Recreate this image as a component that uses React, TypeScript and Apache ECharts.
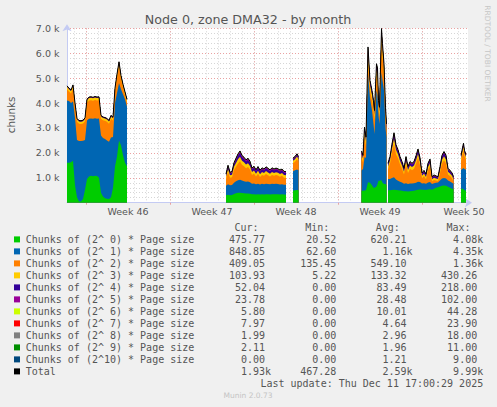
import React, { useEffect, useRef } from "react";
import * as echarts from "echarts";

// ---- time axis (hours from the left edge of the graph) ----
const hours = [
  0, 4, 8, 12, 16, 20, 24, 28, 32, 36, 40, 44, 48, 52, 56, 60, 64, 68, 72, 76, 80, 84, 88, 92, 96, 100, 104, 108, 112, 116, 120,
  122,
  318, 322, 326, 330, 334, 338, 342, 346, 350, 354, 358, 362, 366, 370, 374, 378, 382, 386, 390, 394, 398, 402, 406, 410, 414, 418, 422, 426, 430, 434, 438,
  441,
  452, 456, 460, 463,
  466,
  589, 592, 595, 598, 602, 606, 610, 613, 615, 619, 621, 623, 625, 629, 631, 634, 637, 639,
  641,
  642, 646, 650, 654, 658, 662, 666, 670, 674, 678, 682, 686, 690, 694, 698, 702, 706, 710, 714, 718, 722, 726, 730, 734, 738, 742, 746, 750, 754, 758, 762, 766, 770, 773,
  777,
  788, 791, 793, 795, 798,
];

// ---- series values (chunks) ----
const order0 = [
  1600, 1600, 1620, 1680, 700, 220, 50, 50, 150, 520, 950, 1050, 1080, 1060, 1080, 1070, 1000, 400, 250, 180, 160, 150, 220, 600, 1450, 1850, 2500, 2300, 1900, 1600, 1450,
  null,
  300, 320, 300, 310, 350, 380, 400, 400, 390, 380, 370, 370, 360, 340, 340, 330, 340, 330, 340, 330, 340, 335, 330, 340, 335, 340, 335, 330, 335, 325, 320,
  null,
  480, 500, 510, 500,
  null,
  480, 480, 490, 500, 820, 800, 700, 600, 600, 650, 750, 880, 880, 900, 800, 750, 750, 700,
  null,
  500, 500, 510, 520, 510, 500, 490, 480, 460, 460, 450, 460, 470, 480, 500, 520, 530, 520, 520, 510, 530, 540, 520, 560, 600, 620, 650, 680, 690, 680, 640, 600, 560, 540,
  null,
  560, 560, 540, 500, 475.77,
];
const order1 = [
  2500, 2480, 2380, 2380, 2700, 2300, 2430, 2430, 2340, 2000, 2350, 2320, 2300, 2310, 2310, 2300, 2380, 2300, 2350, 2380, 2340, 2300, 2400, 2040, 2550, 2550, 2300, 2250, 2450, 2550, 2400,
  null,
  380, 420, 400, 400, 450, 480, 500, 520, 500, 480, 470, 480, 460, 420, 430, 410, 420, 400, 420, 410, 420, 415, 410, 420, 415, 420, 415, 405, 410, 400, 400,
  null,
  780, 800, 820, 800,
  null,
  810, 870, 1330, 1300, 4350, 3400, 3000, 2560, 2160, 3850, 3550, 2620, 2280, 4340, 4100, 3750, 2250, 1930,
  null,
  450, 450, 480, 500, 420, 380, 350, 330, 300, 320, 300, 310, 300, 300, 300, 320, 300, 250, 260, 250, 280, 290, 230, 220, 200, 190, 240, 290, 300, 290, 250, 250, 240, 220,
  null,
  750, 800, 850, 850, 848.85,
];
const order2 = [
  455, 385, 385, 525, 465, 725, 685, 675, 685, 745, 715, 735, 735, 725, 735, 735, 735, 665, 705, 725, 745, 715, 745, 655, 465, 615, 705, 415, 265, 165, 165,
  null,
  275, 485, 300, 310, 510, 585, 670, 745, 630, 600, 545, 580, 515, 350, 400, 315, 400, 305, 355, 337, 390, 352, 315, 355, 327, 347, 337, 310, 332, 280, 275,
  null,
  325, 345, 410, 345,
  null,
  510, 270, 850, 470, 540, 300, 400, 540, 560, 570, 620, 200, 290, 1190, 940, 570, 430, 150,
  null,
  390, 620, 1010, 1340, 1015, 900, 702, 555, 375, 762, 443, 595, 537, 585, 760, 950, 662, 213, 287, 185, 497, 623, 107, 135, 87, 58, 303, 605, 712, 605, 245, 217, 184, 97,
  null,
  352, 570, 713, 518, 409.05,
];
const order3 = [
  95, 92, 96, 100, 94, 98, 95, 93, 96, 97, 95, 94, 96, 95, 97, 95, 94, 96, 95, 93, 97, 95, 96, 94, 98, 100, 102, 96, 95, 94, 93,
  null,
  90, 130, 100, 100, 130, 150, 170, 180, 160, 160, 150, 150, 140, 120, 120, 110, 120, 110, 120, 115, 120, 115, 110, 120, 115, 118, 115, 110, 115, 105, 105,
  null,
  100, 100, 110, 100,
  null,
  150, 150, 200, 200, 300, 220, 220, 220, 210, 280, 270, 220, 210, 320, 310, 280, 220, 210,
  null,
  110, 130, 170, 220, 180, 160, 140, 130, 110, 140, 115, 130, 125, 130, 145, 165, 140, 95, 105, 90, 125, 135, 85, 90, 85, 80, 115, 150, 160, 150, 110, 105, 95, 85,
  null,
  120, 140, 150, 120, 103.93,
];
const order4 = [
  20, 21, 19, 22, 20, 18, 19, 20, 21, 20, 22, 20, 19, 21, 20, 20, 19, 20, 21, 20, 19, 20, 22, 21, 20, 22, 24, 21, 20, 19, 20,
  null,
  60, 90, 70, 80, 100, 120, 140, 150, 140, 130, 120, 130, 120, 100, 110, 100, 110, 100, 105, 100, 110, 105, 100, 105, 100, 105, 100, 100, 100, 95, 95,
  null,
  60, 60, 65, 60,
  null,
  80, 80, 100, 100, 150, 110, 110, 110, 100, 140, 130, 110, 100, 150, 140, 140, 110, 100,
  null,
  80, 95, 120, 150, 130, 120, 110, 100, 85, 110, 90, 100, 95, 100, 115, 130, 110, 75, 80, 70, 95, 105, 65, 70, 65, 60, 90, 115, 125, 115, 85, 80, 75, 65,
  null,
  70, 80, 85, 65, 52.04,
];
const order5 = [
  10, 10, 9, 11, 10, 9, 10, 10, 10, 11, 10, 10, 9, 10, 10, 10, 11, 10, 10, 9, 10, 10, 11, 10, 11, 12, 13, 11, 10, 10, 10,
  null,
  25, 35, 30, 30, 40, 45, 50, 55, 50, 50, 45, 50, 45, 40, 40, 35, 40, 35, 40, 38, 40, 38, 35, 40, 38, 40, 38, 35, 38, 35, 35,
  null,
  25, 25, 25, 25,
  null,
  30, 30, 40, 40, 60, 50, 50, 50, 50, 60, 60, 50, 50, 60, 60, 60, 50, 50,
  null,
  30, 35, 40, 50, 45, 40, 38, 35, 30, 38, 32, 35, 33, 35, 40, 45, 38, 27, 28, 25, 33, 37, 23, 25, 23, 22, 32, 40, 43, 40, 30, 28, 26, 23,
  null,
  28, 30, 32, 27, 23.78,
];
const order6 = [
  6, 6, 5, 6, 7, 6, 5, 6, 6, 5, 6, 6, 7, 6, 6, 5, 6, 6, 5, 6, 6, 7, 6, 6, 5, 6, 7, 6, 6, 5, 6,
  null,
  9, 12, 10, 10, 11, 12, 13, 14, 12, 11, 10, 11, 10, 9, 10, 9, 10, 9, 10, 9, 10, 10, 9, 10, 9, 10, 9, 9, 10, 8, 8,
  null,
  10, 11, 12, 11,
  null,
  9, 9, 11, 10, 16, 13, 12, 11, 11, 14, 13, 11, 10, 16, 15, 14, 11, 10,
  null,
  9, 10, 12, 14, 12, 11, 10, 10, 9, 11, 9, 10, 10, 10, 11, 12, 11, 8, 8, 8, 10, 11, 7, 8, 7, 7, 9, 11, 12, 11, 9, 8, 8, 7,
  null,
  8, 8, 7, 6, 5.8,
];
const order7 = [
  2, 2, 2, 3, 2, 2, 2, 2, 2, 2, 2, 2, 2, 2, 2, 2, 2, 2, 2, 2, 2, 2, 2, 2, 2, 3, 3, 2, 2, 2, 2,
  null,
  4, 5, 4, 4, 5, 5, 6, 6, 5, 5, 5, 5, 4, 4, 4, 4, 4, 4, 4, 4, 4, 4, 4, 4, 4, 4, 4, 4, 4, 3, 3,
  null,
  4, 4, 5, 4,
  null,
  4, 4, 5, 5, 7, 6, 5, 5, 5, 6, 6, 5, 5, 7, 7, 6, 5, 5,
  null,
  4, 4, 5, 6, 5, 5, 4, 4, 4, 5, 4, 4, 4, 4, 5, 5, 4, 3, 3, 3, 4, 4, 3, 3, 3, 3, 4, 5, 5, 5, 4, 4, 4, 3,
  null,
  5, 6, 7, 8, 7.97,
];
const order8 = [
  1, 1, 1, 1, 1, 1, 1, 1, 1, 1, 1, 1, 1, 1, 1, 1, 1, 1, 1, 1, 1, 1, 1, 1, 1, 2, 2, 1, 1, 1, 1,
  null,
  3, 3, 3, 3, 3, 3, 4, 4, 3, 3, 3, 3, 3, 3, 3, 3, 3, 3, 3, 3, 3, 3, 3, 3, 3, 3, 3, 3, 3, 2, 2,
  null,
  3, 3, 3, 3,
  null,
  3, 3, 3, 3, 4, 3, 3, 3, 3, 4, 4, 3, 3, 4, 4, 4, 3, 3,
  null,
  3, 3, 3, 4, 3, 3, 3, 3, 3, 3, 3, 3, 3, 3, 3, 3, 3, 2, 2, 2, 3, 3, 2, 2, 2, 2, 3, 3, 3, 3, 3, 3, 2, 2,
  null,
  3, 3, 2, 2, 1.99,
];
const order9 = [
  1, 1, 1, 1, 1, 1, 1, 1, 1, 1, 1, 1, 1, 1, 1, 1, 1, 1, 1, 1, 1, 1, 1, 1, 1, 1, 1, 1, 1, 1, 1,
  null,
  2, 2, 2, 2, 2, 2, 2, 2, 2, 2, 2, 2, 2, 2, 2, 2, 2, 2, 2, 2, 2, 2, 2, 2, 2, 2, 2, 2, 2, 2, 2,
  null,
  2, 2, 2, 2,
  null,
  2, 2, 2, 2, 3, 2, 2, 2, 2, 3, 2, 2, 2, 3, 3, 2, 2, 2,
  null,
  2, 2, 2, 2, 2, 2, 2, 2, 2, 2, 2, 2, 2, 2, 2, 2, 2, 2, 2, 2, 2, 2, 2, 2, 2, 2, 2, 2, 2, 2, 2, 2, 2, 2,
  null,
  2, 2, 2, 2, 2.11,
];
const order10 = [
  0, 0, 0, 0, 0, 0, 0, 0, 0, 0, 0, 0, 0, 0, 0, 0, 0, 0, 0, 0, 0, 0, 0, 0, 0, 0, 0, 0, 0, 0, 0,
  null,
  1, 1, 1, 1, 1, 1, 1, 1, 1, 1, 1, 1, 1, 1, 1, 1, 1, 1, 1, 1, 1, 1, 1, 1, 1, 1, 1, 1, 1, 1, 1,
  null,
  1, 1, 1, 1,
  null,
  1, 1, 1, 1, 2, 1, 1, 1, 1, 2, 1, 1, 1, 2, 2, 1, 1, 1,
  null,
  1, 1, 1, 1, 1, 1, 1, 1, 1, 1, 1, 1, 1, 1, 1, 1, 1, 1, 1, 1, 1, 1, 1, 1, 1, 1, 1, 1, 1, 1, 1, 1, 1, 1,
  null,
  1, 1, 0, 0, 0,
];

// ---- axis marks ----
const yTicks = [0, 1000, 2000, 3000, 4000, 5000, 6000, 7000];
const weekStartHours = [38, 206, 374, 542, 710];
const weekLabels = ["Week 46", "Week 47", "Week 48", "Week 49", "Week 50"];
const firstDayLineHour = 14;
const graphEndHour = 802;

// ---- legend table ----
const legendNames = [
  "Chunks of (2^ 0) * Page size",
  "Chunks of (2^ 1) * Page size",
  "Chunks of (2^ 2) * Page size",
  "Chunks of (2^ 3) * Page size",
  "Chunks of (2^ 4) * Page size",
  "Chunks of (2^ 5) * Page size",
  "Chunks of (2^ 6) * Page size",
  "Chunks of (2^ 7) * Page size",
  "Chunks of (2^ 8) * Page size",
  "Chunks of (2^ 9) * Page size",
  "Chunks of (2^10) * Page size",
  "Total",
];
const legendColors = [
  "#00CC00", "#0066B3", "#FF8000", "#FFCC00", "#330099", "#990099",
  "#CCFF00", "#FF0000", "#808080", "#008F00", "#00487D", "#000000",
];
const curValues = ["475.77", "848.85", "409.05", "103.93", "52.04", "23.78", "5.80", "7.97", "1.99", "2.11", "0.00", "1.93k"];
const minValues = ["20.52", "62.60", "135.45", "5.22", "0.00", "0.00", "0.00", "0.00", "0.00", "0.00", "0.00", "467.28"];
const avgValues = ["620.21", "1.16k", "549.10", "133.32", "83.49", "28.48", "10.01", "4.64", "2.96", "1.96", "1.21", "2.59k"];
const maxValues = ["4.08k", "4.35k", "1.36k", "430.26", "218.00", "102.00", "44.28", "23.90", "18.00", "11.00", "9.00", "9.99k"];
const headers = ["Cur:", "Min:", "Avg:", "Max:"];
const lastUpdate = "Last update: Thu Dec 11 17:00:29 2025";
const titleText = "Node 0, zone DMA32 - by month";

export default function App() {
  const ref = useRef<HTMLDivElement>(null);

  useEffect(() => {
    if (!ref.current) return;
    const chart = echarts.init(ref.current, null, { renderer: "svg" });

    const comps = [order0, order1, order2, order3, order4, order5, order6, order7, order8, order9, order10];
    // cumulative tops of each stacked layer (the stack is built here, then
    // each layer is drawn from zero, top layer first)
    const cumulative: (number | null)[][] = [];
    comps.forEach((arr, k) => {
      cumulative.push(
        hours.map((_, i) => {
          if (arr[i] == null) return null;
          const below = k === 0 ? 0 : (cumulative[k - 1][i] as number);
          return below + (arr[i] as number);
        })
      );
    });
    const total = cumulative[comps.length - 1];

    const dayLines: number[] = [];
    for (let h = firstDayLineHour; h < graphEndHour; h += 24) dayLines.push(h);
    const weekLabelHours = weekStartHours.map((h) => h + 84);

    const axisColor = "#c4cbf3";
    const textColor = "#555555";
    const sans = "DejaVu Sans";
    const mono = "DejaVu Sans Mono";

    const areaSeries: any[] = [];
    for (let k = comps.length - 1; k >= 0; k--) {
      areaSeries.push({
        name: legendNames[k],
        type: "line",
        data: hours.map((h, i) => [h, cumulative[k][i]]),
        symbol: "none",
        showSymbol: false,
        silent: true,
        connectNulls: false,
        lineStyle: { width: 0, opacity: 0 },
        itemStyle: { color: legendColors[k] },
        areaStyle: { color: legendColors[k], opacity: 1, origin: "start" },
        z: 2,
      });
    }

    const totalSeries = {
      name: "Total",
      type: "line",
      data: hours.map((h, i) => [h, total[i]]),
      symbol: "none",
      showSymbol: false,
      silent: true,
      connectNulls: false,
      lineStyle: { color: "#000000", width: 1 },
      itemStyle: { color: "#000000" },
      z: 3,
    };

    const txt = (
      text: string, x: number, y: number, font: string, fill: string,
      align: string, rotation = 0
    ) => ({
      type: "text",
      x, y, rotation,
      silent: true,
      style: {
        text, font, fill,
        align, textAlign: align,
        verticalAlign: "middle", textVerticalAlign: "middle",
      },
    });

    const graphics: any[] = [];
    graphics.push(txt(titleText, 248, 19, `12.7px "${sans}"`, textColor, "center"));
    graphics.push(txt("chunks", 10.5, 115, `10.3px "${sans}"`, textColor, "center", Math.PI / 2));
    graphics.push(txt("RRDTOOL / TOBI OETIKER", 487.5, 53.5, `7.5px "${sans}"`, "#c6c6c6", "center", -Math.PI / 2));

    const headerX = [234.5, 305.3, 375.8, 446.5];
    headers.forEach((h, j) => graphics.push(txt(h, headerX[j], 227.4, `10px "${mono}"`, textColor, "left")));

    const colRight = [265, 336.3, 406.6, 477.2];
    const cols = [curValues, minValues, avgValues, maxValues];
    legendNames.forEach((name, i) => {
      const cy = 239.4 + 12 * i;
      graphics.push({
        type: "rect",
        silent: true,
        shape: { x: 14, y: cy - 3, width: 6, height: 6 },
        style: { fill: legendColors[i] },
      });
      graphics.push(txt(name, 25.7, cy, `10px "${mono}"`, textColor, "left"));
      cols.forEach((col, j) => {
        const v = col[i];
        const r = v.endsWith("k") ? colRight[j] + 6 : colRight[j];
        graphics.push(txt(v, r, cy, `10px "${mono}"`, textColor, "right"));
      });
    });
    graphics.push(txt(lastUpdate, 483.2, 383.5, `10px "${mono}"`, textColor, "right"));
    graphics.push(txt("Munin 2.0.73", 248, 395.7, `7.5px "${sans}"`, "#c4c4c4", "center"));

    chart.setOption({
      animation: false,
      backgroundColor: "#F0F0F0",
      textStyle: { fontFamily: sans },
      grid: {
        left: 67, top: 28.3, width: 401, height: 174.4,
        show: true, backgroundColor: "#FFFFFF", borderWidth: 0,
        containLabel: false,
      },
      xAxis: [
        {
          type: "value",
          min: 0,
          max: graphEndHour,
          axisLine: {
            show: true,
            onZero: false,
            lineStyle: { color: axisColor, width: 1 },
            symbol: ["none", "arrow"],
            symbolSize: [7, 7],
            symbolOffset: [0, 4],
          },
          axisTick: { show: false, customValues: dayLines },
          splitLine: { show: true, lineStyle: { color: "#d6d6d6", width: 1, type: [1, 2] } },
          axisLabel: {
            show: true,
            customValues: weekLabelHours,
            formatter: (v: number) => weekLabels[weekLabelHours.indexOf(v)] ?? "",
            color: textColor,
            fontSize: 9.5,
            fontFamily: sans,
            margin: 4,
          },
        },
        {
          type: "value",
          min: 0,
          max: graphEndHour,
          position: "bottom",
          axisLine: { show: false, onZero: false },
          axisTick: {
            show: true, customValues: weekStartHours, length: 2,
            lineStyle: { color: "#e8a0a0" },
          },
          axisLabel: { show: false },
          splitLine: { show: true, lineStyle: { color: "#eaa2a2", width: 1, type: [1, 2] } },
        },
      ],
      yAxis: {
        type: "value",
        min: 0,
        max: 7000,
        interval: 1000,
        axisLine: {
          show: true,
          lineStyle: { color: axisColor, width: 1 },
          symbol: ["none", "arrow"],
          symbolSize: [7, 7],
          symbolOffset: [0, 4],
        },
        axisTick: { show: false },
        minorTick: { show: false, splitNumber: 5 },
        minorSplitLine: { show: true, lineStyle: { color: "#d6d6d6", width: 1, type: [1, 2] } },
        splitLine: { show: true, lineStyle: { color: "#eaa2a2", width: 1, type: [1, 2] } },
        axisLabel: {
          formatter: (v: number) => (yTicks.indexOf(v) > 0 ? (v / 1000).toFixed(1) + " k" : ""),
          color: textColor,
          fontSize: 9.5,
          fontFamily: sans,
          margin: 7.5,
        },
      },
      series: [...areaSeries, totalSeries],
      graphic: { elements: graphics },
    });

    return () => chart.dispose();
  }, []);

  return (
    <div
      ref={ref}
      style={{ position: "fixed", left: 0, top: 0, width: 497, height: 407, background: "#F0F0F0" }}
    />
  );
}
